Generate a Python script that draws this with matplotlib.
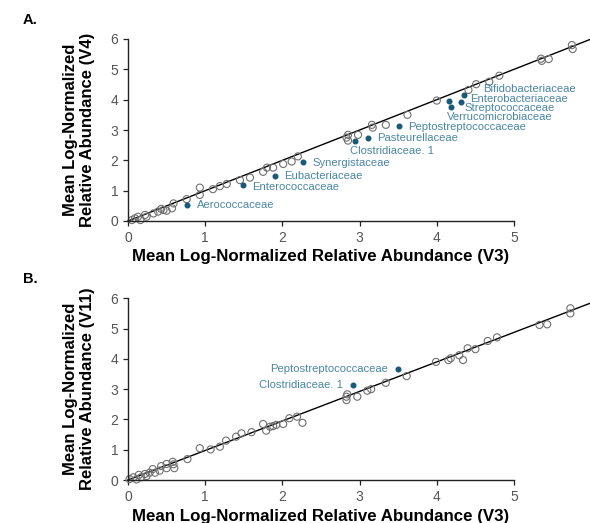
import numpy as np
import matplotlib
matplotlib.use("Agg")
import matplotlib.pyplot as plt

plt.rcParams['font.family'] = ['Liberation Sans', 'DejaVu Sans']

# panel A: V3 vs V4, open circles (families not called out)
a_x = [0.05, 0.09, 0.13, 0.16, 0.22, 0.24, 0.33, 0.39, 0.43, 0.46, 0.50, 0.57, 0.59,
       0.76, 0.93, 0.93, 1.10, 1.19, 1.28, 1.45, 1.58, 1.75, 1.80, 1.88, 2.01, 2.12, 2.20,
       2.83, 2.85, 2.85, 2.98, 3.16, 3.17, 3.34, 3.62, 4.00, 4.41, 4.51, 4.68, 4.81,
       5.35, 5.36, 5.45, 5.75, 5.76]
a_y = [0.03, 0.09, 0.14, 0.03, 0.20, 0.14, 0.25, 0.31, 0.40, 0.36, 0.34, 0.42, 0.58,
       0.72, 0.86, 1.10, 1.05, 1.15, 1.22, 1.35, 1.43, 1.62, 1.76, 1.76, 1.88, 1.96, 2.13,
       2.75, 2.84, 2.65, 2.84, 3.17, 3.08, 3.17, 3.50, 3.97, 4.32, 4.51, 4.59, 4.79,
       5.35, 5.28, 5.34, 5.80, 5.67]

# panel A: highlighted families
a_names = ['Aerococcaceae', 'Enterococcaceae', 'Eubacteriaceae', 'Synergistaceae',
           'Clostridiaceae. 1', 'Pasteurellaceae', 'Peptostreptococcaceae',
           'Verrucomicrobiaceae', 'Streptococcaceae', 'Enterobacteriaceae',
           'Bifidobacteriaceae']
a_hx = [0.77, 1.49, 1.90, 2.27, 2.94, 3.11, 3.51, 4.16, 4.18, 4.31, 4.35]
a_hy = [0.54, 1.20, 1.49, 1.94, 2.65, 2.73, 3.14, 3.96, 3.77, 3.92, 4.14]
# label offsets in pixels (dx, dy)
a_off = [(9.7, -0.3), (9.3, -2), (9, -0.3), (9.4, -1), (-5, -10), (9.4, 0), (9, -1.2),
         (-2.6, -15.8), (14, -1.6), (9.3, 3.2), (19.7, 6)]

# panel B: V3 vs V11, open circles
b_x = [0.02, 0.07, 0.11, 0.14, 0.17, 0.22, 0.24, 0.28, 0.32, 0.35, 0.41, 0.43, 0.50,
       0.50, 0.58, 0.59, 0.60, 0.77, 0.93, 1.07, 1.19, 1.27, 1.40, 1.47, 1.60, 1.75,
       1.79, 1.84, 1.88, 1.92, 2.01, 2.09, 2.19, 2.26, 2.83, 2.84, 2.83, 2.97, 3.10,
       3.15, 3.34, 3.61, 3.99, 4.15, 4.18, 4.29, 4.34, 4.40, 4.50, 4.66, 4.78, 5.33,
       5.43, 5.73, 5.73]
b_y = [0.03, 0.09, 0.02, 0.17, 0.09, 0.20, 0.13, 0.24, 0.36, 0.24, 0.31, 0.46, 0.39,
       0.53, 0.60, 0.52, 0.39, 0.69, 1.05, 1.01, 1.10, 1.30, 1.43, 1.54, 1.58, 1.85,
       1.63, 1.76, 1.78, 1.82, 1.85, 2.04, 2.09, 1.89, 2.75, 2.83, 2.64, 2.75, 2.95,
       3.00, 3.21, 3.43, 3.90, 3.96, 4.02, 4.12, 3.96, 4.35, 4.32, 4.59, 4.71, 5.12,
       5.14, 5.67, 5.50]

b_names = ['Clostridiaceae. 1', 'Peptostreptococcaceae']
b_hx = [2.91, 3.50]
b_hy = [3.13, 3.68]

# fitted line slopes
slope_a = 1.0
slope_b = 0.975

xticks = [0, 1, 2, 3, 4, 5]
yticks = [0, 1, 2, 3, 4, 5, 6]

dot_col = '#175a78'
lab_col = '#4b87a3'
grey = '#707070'

fig = plt.figure(figsize=(5.9, 5.23), dpi=100)
W, H = 590.0, 523.0


def make_ax(top_px, bottom_px, ylab):
    h = bottom_px - top_px
    ax = fig.add_axes([128 / W, 1 - bottom_px / H, (W - 128) / W, h / H])
    ax.set_xlim(0, (W - 128) / 77.2)
    ax.set_ylim(0, 6)
    ax.patch.set_alpha(0)
    for s in ['top', 'right']:
        ax.spines[s].set_visible(False)
    ax.spines['bottom'].set_bounds(0, 5)
    ax.spines['left'].set_bounds(0, 6)
    for s in ['left', 'bottom']:
        ax.spines[s].set_linewidth(1.0)
        ax.spines[s].set_color('#222222')
    ax.set_xticks(xticks)
    ax.set_yticks(yticks)
    ax.tick_params(direction='out', length=3.6, width=0.9, colors='#222222',
                   labelcolor='#555555', labelsize=10, pad=3.5)
    ax.set_xlabel('Mean Log-Normalized Relative Abundance (V3)', fontsize=12.2,
                  fontweight='bold')
    ax.xaxis.set_label_coords(2.5 / ax.get_xlim()[1], -28.5 / h)
    ax.set_ylabel(ylab, fontsize=12, fontweight='bold', linespacing=1.15)
    ax.yaxis.set_label_coords(-33 / (W - 128), 0.5)
    return ax


# ---------- A ----------
axA = make_ax(39, 221, 'Mean Log-Normalized\nRelative Abundance (V4)')
xx = np.array([0, axA.get_xlim()[1]])
axA.plot(xx, slope_a * xx, color='black', lw=1.0, zorder=1, clip_on=False)
axA.scatter(a_x, a_y, s=26, facecolors='none', edgecolors=grey, linewidths=0.8,
            zorder=2, clip_on=False)
axA.scatter(a_hx, a_hy, s=11, color=dot_col, zorder=3, clip_on=False)
for name, x, y, off in zip(a_names, a_hx, a_hy, a_off):
    axA.annotate(name, (x, y), xytext=off, textcoords='offset pixels', fontsize=8.1,
                 color=lab_col, va='center', ha='left')

# ---------- B ----------
axB = make_ax(298.3, 480, 'Mean Log-Normalized\nRelative Abundance (V11)')
axB.plot(xx, slope_b * xx, color='black', lw=1.0, zorder=1, clip_on=False)
axB.scatter(b_x, b_y, s=26, facecolors='none', edgecolors=grey, linewidths=0.8,
            zorder=2, clip_on=False)
axB.scatter(b_hx, b_hy, s=11, color=dot_col, zorder=3, clip_on=False)
for name, x, y in zip(b_names, b_hx, b_hy):
    axB.annotate(name, (x, y), xytext=(-10, 0), textcoords='offset pixels', fontsize=8.1,
                 color=lab_col, va='center', ha='right')

fig.text(23 / W, 1 - 20 / H, 'A.', fontsize=10.5, fontweight='bold', va='center')
fig.text(23 / W, 1 - 279 / H, 'B.', fontsize=10.5, fontweight='bold', va='center')

fig.savefig('out.png', dpi=100)
